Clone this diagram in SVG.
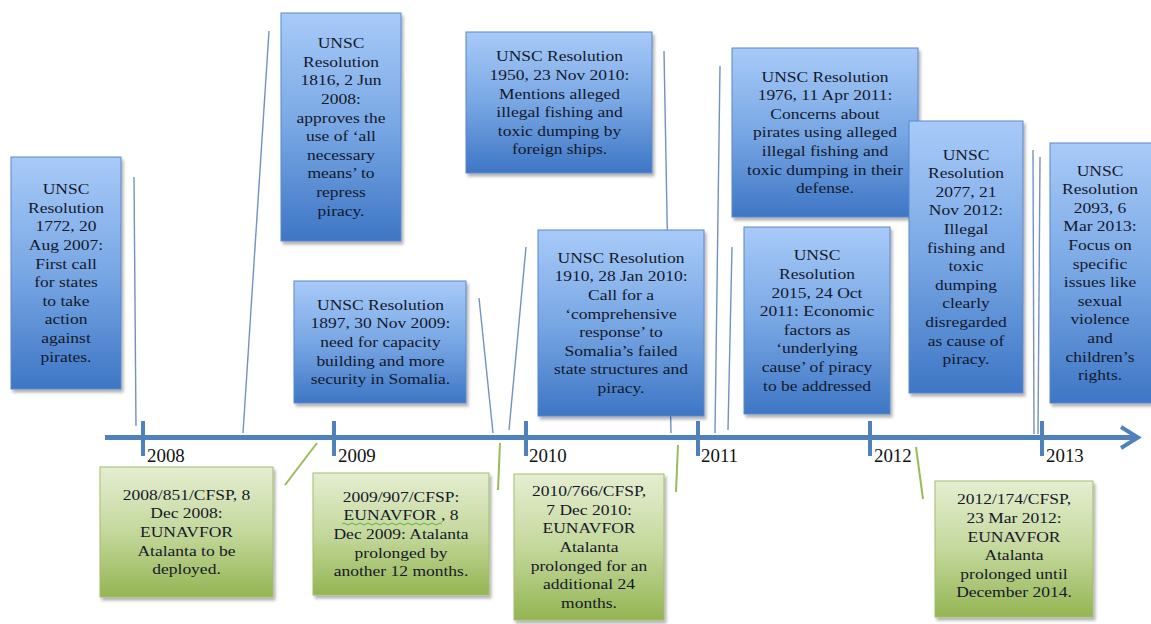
<svg xmlns="http://www.w3.org/2000/svg" width="1151" height="624" viewBox="0 0 1151 624" font-family="Liberation Serif, Times New Roman, DejaVu Serif, serif">
<style>
.t{font-size:15.5px;fill:#15182a;text-anchor:middle}
.yr{font-size:18px;fill:#111}
.bb{fill:url(#gb);stroke:#5a88cc;stroke-width:1;filter:url(#sh)}
.gb{fill:url(#gg);stroke:#a3bd6e;stroke-width:1;filter:url(#sh)}
.cb{stroke:#7391c4;stroke-width:1.4;fill:none}
.cg{stroke:#9bbb59;stroke-width:2;fill:none}
.tick{stroke:#4f81bd;stroke-width:4}
</style>
<defs>
<linearGradient id="gb" x1="0" y1="0" x2="0" y2="1">
<stop offset="0" stop-color="#a8caf8"/>
<stop offset="0.5" stop-color="#78a7e4"/>
<stop offset="1" stop-color="#3e76c5"/>
</linearGradient>
<linearGradient id="gg" x1="0" y1="0" x2="0" y2="1">
<stop offset="0" stop-color="#e5eed1"/>
<stop offset="0.5" stop-color="#c4d89c"/>
<stop offset="1" stop-color="#94b553"/>
</linearGradient>
<filter id="sh" x="-10%" y="-10%" width="130%" height="130%">
<feDropShadow dx="2" dy="3" stdDeviation="1.5" flood-color="#000" flood-opacity="0.3"/>
</filter>
</defs>
<rect width="1151" height="624" fill="#fff"/>
<g id="connectors">
<line class="cb" x1="134" y1="177" x2="136" y2="426"/>
<line class="cb" x1="269" y1="31" x2="243" y2="433"/>
<line class="cb" x1="479" y1="298" x2="493" y2="433"/>
<line class="cb" x1="526" y1="247" x2="509" y2="430"/>
<line class="cb" x1="664" y1="51" x2="671" y2="433"/>
<line class="cb" x1="720" y1="66" x2="715" y2="433"/>
<line class="cb" x1="732" y1="247" x2="728" y2="430"/>
<line class="cb" x1="1033" y1="150" x2="1034" y2="434"/>
<line class="cb" x1="1040" y1="157" x2="1038" y2="434"/>
<line class="cg" x1="317" y1="443" x2="285" y2="485"/>
<line class="cg" x1="500" y1="443" x2="498" y2="490"/>
<line class="cg" x1="678" y1="445" x2="676" y2="492"/>
<line class="cg" x1="916" y1="447" x2="923" y2="499"/>
</g>
<g id="timeline" font-family="Liberation Serif, serif">
<line x1="105" y1="437.5" x2="1136" y2="437.5" stroke="#4f81bd" stroke-width="5"/>
<polyline points="1121,427 1138,437.5 1121,448" fill="none" stroke="#4f81bd" stroke-width="4" stroke-linejoin="miter"/>
<line class="tick" x1="143" y1="421" x2="143" y2="456"/>
<line class="tick" x1="334" y1="421" x2="334" y2="456"/>
<line class="tick" x1="526" y1="421" x2="526" y2="456"/>
<line class="tick" x1="698" y1="421" x2="698" y2="456"/>
<line class="tick" x1="870" y1="421" x2="870" y2="456"/>
<line class="tick" x1="1042" y1="421" x2="1042" y2="456"/>
<text class="yr" font-family="Liberation Serif, serif" x="147" y="462" transform="matrix(1.05 0 0 1 -7.35 0)">2008</text>
<text class="yr" font-family="Liberation Serif, serif" x="338" y="462" transform="matrix(1.05 0 0 1 -16.9 0)">2009</text>
<text class="yr" font-family="Liberation Serif, serif" x="529" y="462" transform="matrix(1.05 0 0 1 -26.45 0)">2010</text>
<text class="yr" font-family="Liberation Serif, serif" x="701" y="462" transform="matrix(1.05 0 0 1 -35.05 0)">2011</text>
<text class="yr" font-family="Liberation Serif, serif" x="874" y="462" transform="matrix(1.05 0 0 1 -43.7 0)">2012</text>
<text class="yr" font-family="Liberation Serif, serif" x="1046" y="462" transform="matrix(1.05 0 0 1 -52.3 0)">2013</text>
</g>
<g id="n1772" font-family="Liberation Serif, serif">
<rect class="bb" x="11" y="157" width="110" height="232"/>
<text class="t" font-family="Liberation Serif, serif" transform="matrix(1.13 0 0 1 66 0)"><tspan x="0" y="194.3">UNSC</tspan><tspan x="0" y="212.9">Resolution</tspan><tspan x="0" y="231.5">1772, 20</tspan><tspan x="0" y="250.1">Aug 2007:</tspan><tspan x="0" y="268.7">First call</tspan><tspan x="0" y="287.3">for states</tspan><tspan x="0" y="305.9">to take</tspan><tspan x="0" y="324.5">action</tspan><tspan x="0" y="343.1">against</tspan><tspan x="0" y="361.7">pirates.</tspan></text>
</g>
<g id="n1816" font-family="Liberation Serif, serif">
<rect class="bb" x="281" y="13" width="120" height="228"/>
<text class="t" font-family="Liberation Serif, serif" transform="matrix(1.13 0 0 1 341 0)"><tspan x="0" y="48.3">UNSC</tspan><tspan x="0" y="66.9">Resolution</tspan><tspan x="0" y="85.5">1816, 2 Jun</tspan><tspan x="0" y="104.1">2008:</tspan><tspan x="0" y="122.7">approves the</tspan><tspan x="0" y="141.3">use of ‘all</tspan><tspan x="0" y="159.9">necessary</tspan><tspan x="0" y="178.5">means’ to</tspan><tspan x="0" y="197.1">repress</tspan><tspan x="0" y="215.7">piracy.</tspan></text>
</g>
<g id="n1950" font-family="Liberation Serif, serif">
<rect class="bb" x="466" y="32" width="186" height="141"/>
<text class="t" font-family="Liberation Serif, serif" transform="matrix(1.13 0 0 1 559.5 0)"><tspan x="0" y="61.5">UNSC Resolution</tspan><tspan x="0" y="80.1">1950, 23 Nov 2010:</tspan><tspan x="0" y="98.7">Mentions alleged</tspan><tspan x="0" y="117.3">illegal fishing and</tspan><tspan x="0" y="135.9">toxic dumping by</tspan><tspan x="0" y="154.5">foreign ships.</tspan></text>
</g>
<g id="n1897" font-family="Liberation Serif, serif">
<rect class="bb" x="294" y="281" width="172" height="122"/>
<text class="t" font-family="Liberation Serif, serif" transform="matrix(1.13 0 0 1 380.5 0)"><tspan x="0" y="309.8">UNSC Resolution</tspan><tspan x="0" y="328.4">1897, 30 Nov 2009:</tspan><tspan x="0" y="347">need for capacity</tspan><tspan x="0" y="365.6">building and more</tspan><tspan x="0" y="384.2">security in Somalia.</tspan></text>
</g>
<g id="n1910" font-family="Liberation Serif, serif">
<rect class="bb" x="538" y="230" width="166" height="186"/>
<text class="t" font-family="Liberation Serif, serif" transform="matrix(1.13 0 0 1 621 0)"><tspan x="0" y="262.9">UNSC Resolution</tspan><tspan x="0" y="281.5">1910, 28 Jan 2010:</tspan><tspan x="0" y="300.1">Call for a</tspan><tspan x="0" y="318.7">‘comprehensive</tspan><tspan x="0" y="337.3">response’ to</tspan><tspan x="0" y="355.9">Somalia’s failed</tspan><tspan x="0" y="374.5">state structures and</tspan><tspan x="0" y="393.1">piracy.</tspan></text>
</g>
<g id="n1976" font-family="Liberation Serif, serif">
<rect class="bb" x="732" y="48" width="186" height="169"/>
<text class="t" font-family="Liberation Serif, serif" transform="matrix(1.13 0 0 1 825 0)"><tspan x="0" y="81.7">UNSC Resolution</tspan><tspan x="0" y="100.3">1976, 11 Apr 2011:</tspan><tspan x="0" y="118.9">Concerns about</tspan><tspan x="0" y="137.5">pirates using alleged</tspan><tspan x="0" y="156.1">illegal fishing and</tspan><tspan x="0" y="174.7">toxic dumping in their</tspan><tspan x="0" y="193.3">defense.</tspan></text>
</g>
<g id="n2015" font-family="Liberation Serif, serif">
<rect class="bb" x="744" y="227" width="146" height="187"/>
<text class="t" font-family="Liberation Serif, serif" transform="matrix(1.13 0 0 1 817 0)"><tspan x="0" y="260.4">UNSC</tspan><tspan x="0" y="279">Resolution</tspan><tspan x="0" y="297.6">2015, 24 Oct</tspan><tspan x="0" y="316.2">2011: Economic</tspan><tspan x="0" y="334.8">factors as</tspan><tspan x="0" y="353.4">‘underlying</tspan><tspan x="0" y="372">cause’ of piracy</tspan><tspan x="0" y="390.6">to be addressed</tspan></text>
</g>
<g id="n2077" font-family="Liberation Serif, serif">
<rect class="bb" x="909" y="121" width="114" height="272"/>
<text class="t" font-family="Liberation Serif, serif" transform="matrix(1.13 0 0 1 966 0)"><tspan x="0" y="159.7">UNSC</tspan><tspan x="0" y="178.3">Resolution</tspan><tspan x="0" y="196.9">2077, 21</tspan><tspan x="0" y="215.5">Nov 2012:</tspan><tspan x="0" y="234.1">Illegal</tspan><tspan x="0" y="252.7">fishing and</tspan><tspan x="0" y="271.3">toxic</tspan><tspan x="0" y="289.9">dumping</tspan><tspan x="0" y="308.5">clearly</tspan><tspan x="0" y="327.1">disregarded</tspan><tspan x="0" y="345.7">as cause of</tspan><tspan x="0" y="364.3">piracy.</tspan></text>
</g>
<g id="n2093" font-family="Liberation Serif, serif">
<rect class="bb" x="1050" y="143" width="104" height="260"/>
<text class="t" font-family="Liberation Serif, serif" transform="matrix(1.13 0 0 1 1100 0)"><tspan x="0" y="175.7">UNSC</tspan><tspan x="0" y="194.3">Resolution</tspan><tspan x="0" y="212.9">2093, 6</tspan><tspan x="0" y="231.5">Mar 2013:</tspan><tspan x="0" y="250.1">Focus on</tspan><tspan x="0" y="268.7">specific</tspan><tspan x="0" y="287.3">issues like</tspan><tspan x="0" y="305.9">sexual</tspan><tspan x="0" y="324.5">violence</tspan><tspan x="0" y="343.1">and</tspan><tspan x="0" y="361.7">children’s</tspan><tspan x="0" y="380.3">rights.</tspan></text>
</g>
<g id="e2008" font-family="Liberation Serif, serif">
<rect class="gb" x="100" y="467" width="173" height="130"/>
<text class="t" font-family="Liberation Serif, serif" transform="matrix(1.13 0 0 1 186.5 0)"><tspan x="0" y="499.8">2008/851/CFSP, 8</tspan><tspan x="0" y="518.4">Dec 2008:</tspan><tspan x="0" y="537">EUNAVFOR</tspan><tspan x="0" y="555.6">Atalanta to be</tspan><tspan x="0" y="574.2">deployed.</tspan></text>
</g>
<g id="e2009" font-family="Liberation Serif, serif">
<rect class="gb" x="313" y="473" width="176" height="122"/>
<text class="t" font-family="Liberation Serif, serif" transform="matrix(1.13 0 0 1 401 0)"><tspan x="0" y="501.8">2009/907/CFSP:</tspan><tspan x="0" y="520.4">EUNAVFOR , 8</tspan><tspan x="0" y="539">Dec 2009: Atalanta</tspan><tspan x="0" y="557.6">prolonged by</tspan><tspan x="0" y="576.2">another 12 months.</tspan></text>
<path d="M342,524 q2,-2 4,0 t4,0 t4,0 t4,0 t4,0 t4,0 t4,0 t4,0 t4,0 t4,0 t4,0 t4,0 t4,0 t4,0 t4,0 t4,0 t4,0 t4,0 t4,0 t4,0 t4,0 t4,0 t4,0 t4,0 t4,0" fill="none" stroke="#5aa83a" stroke-width="0.9"/>
</g>
<g id="e2010" font-family="Liberation Serif, serif">
<rect class="gb" x="514" y="474" width="150" height="146"/>
<text class="t" font-family="Liberation Serif, serif" transform="matrix(1.13 0 0 1 589 0)"><tspan x="0" y="496.2">2010/766/CFSP,</tspan><tspan x="0" y="514.8">7 Dec 2010:</tspan><tspan x="0" y="533.4">EUNAVFOR</tspan><tspan x="0" y="552">Atalanta</tspan><tspan x="0" y="570.6">prolonged for an</tspan><tspan x="0" y="589.2">additional 24</tspan><tspan x="0" y="607.8">months.</tspan></text>
</g>
<g id="e2012" font-family="Liberation Serif, serif">
<rect class="gb" x="935" y="481" width="158" height="136"/>
<text class="t" font-family="Liberation Serif, serif" transform="matrix(1.13 0 0 1 1014 0)"><tspan x="0" y="504.5">2012/174/CFSP,</tspan><tspan x="0" y="523.1">23 Mar 2012:</tspan><tspan x="0" y="541.7">EUNAVFOR</tspan><tspan x="0" y="560.3">Atalanta</tspan><tspan x="0" y="578.9">prolonged until</tspan><tspan x="0" y="597.5">December 2014.</tspan></text>
</g>
</svg>
